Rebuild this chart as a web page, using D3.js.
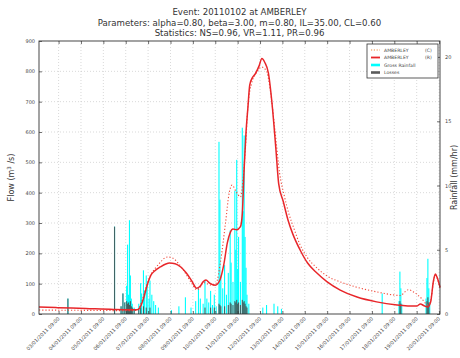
<!DOCTYPE html>
<html>
<head>
<meta charset="utf-8">
<script src="https://cdn.jsdelivr.net/npm/d3@7"></script>
<style>
  body { margin: 0; background: #fff; }
  svg { display: block; font-family: "DejaVu Sans", sans-serif; }
</style>
</head>
<body>
<svg id="chart" width="460" height="358"></svg>
<script>
// ---- chart text ----
const titleLines = [
  "Event: 20110102 at AMBERLEY",
  "Parameters: alpha=0.80, beta=3.00, m=0.80, IL=35.00, CL=0.60",
  "Statistics: NS=0.96, VR=1.11, PR=0.96"
];
const legendLabels = ["AMBERLEY", "AMBERLEY", "Gross Rainfall", "Losses"];
const legendTags = ["(C)", "(R)", "", ""];

// ---- time axis: hours counted from the start of the event window ----
const startTime = new Date(2011, 0, 2, 12, 0);
const endHour = 430;
const tickDays = [3, 4, 5, 6, 7, 8, 9, 10, 11, 12, 13, 14, 15, 16, 17, 18, 19, 20];
const flowTicks = [0, 100, 200, 300, 400, 500, 600, 700, 800, 900];
const rainTicks = [0, 5, 10, 15, 20];

// ---- observed (R) and computed (C) flow, [hour, m3/s] ----
const flowR = [
  [0, 23], [20, 21], [50, 18], [80, 15], [100, 14], [105, 14], [108, 20], [112, 50],
  [116, 95], [120, 128], [124, 142], [130, 155], [136, 165], [140, 168], [146, 166],
  [152, 155], [158, 135], [164, 108], [169, 85], [173, 92], [176, 106], [179, 112],
  [183, 102], [189, 95], [194, 112], [198, 160], [202, 235], [205, 268], [208, 280],
  [212, 278], [216, 288], [218, 330], [220, 480], [222, 600], [224, 680], [226, 755],
  [229, 780], [232, 792], [236, 818], [239, 842], [242, 830], [246, 794], [250, 690],
  [254, 545], [257, 430], [262, 370], [267, 310], [272, 265], [280, 211], [288, 168],
  [298, 135], [309, 106], [323, 79], [341, 56], [362, 40], [384, 30], [405, 26],
  [409, 33], [413, 27], [417, 23], [420, 40], [423, 110], [425, 132], [427, 120], [430, 88]
];
const flowC = [
  [0, 13], [50, 12], [100, 11], [105, 12], [110, 40], [115, 90], [120, 130], [125, 152],
  [130, 170], [135, 185], [138, 188], [143, 185], [150, 165], [158, 130], [164, 100],
  [169, 80], [173, 88], [176, 104], [180, 100], [186, 95], [190, 102], [195, 180],
  [200, 300], [204, 400], [207, 425], [212, 400], [216, 386], [219, 450], [222, 580],
  [224, 683], [228, 761], [232, 790], [239, 814], [244, 800], [248, 739], [253, 607],
  [258, 465], [263, 390], [268, 330], [273, 285], [280, 228], [288, 185], [298, 152],
  [309, 125], [323, 106], [341, 88], [362, 73], [380, 63], [388, 61], [392, 72],
  [396, 80], [402, 72], [410, 52], [417, 30], [420, 45], [423, 105], [425, 128],
  [427, 118], [430, 85]
];

// ---- hourly gross rainfall and losses, [hour, mm/hr] ----
const grossRain = [
  [31, 1.2], [81, 6.8], [88, 0.6], [90, 1.6], [92, 0.9], [94, 2.2], [95, 5.4], [96, 1.5],
  [97, 7.3], [98, 3.0], [99, 1.2], [100, 0.8], [102, 0.5],
  [107, 0.8], [109, 2.4], [110, 1.6], [112, 3.4], [113, 1.8], [115, 3.0], [116, 2.2],
  [118, 1.2], [119, 2.6], [121, 1.5], [123, 1.0], [125, 0.7], [128, 0.5],
  [142, 0.3], [150, 0.6], [157, 1.3], [163, 0.5], [168, 1.0], [171, 2.1], [173, 1.2],
  [176, 0.8], [178, 2.6], [180, 1.2], [182, 0.9], [184, 1.8], [186, 0.7], [188, 1.5],
  [190, 0.6], [193, 13.4], [194, 8.9], [195, 3.0], [197, 2.0], [199, 3.8], [201, 1.5],
  [203, 3.2], [205, 6.5], [206, 4.0], [208, 2.5], [210, 9.6], [211, 5.0], [212, 12.0],
  [213, 3.5], [214, 6.0], [216, 2.5], [218, 14.5], [219, 8.0], [220, 13.9], [221, 6.0],
  [222, 3.6], [223, 1.5], [225, 0.8],
  [240, 0.5], [244, 0.7], [252, 0.8], [256, 0.6], [260, 0.4],
  [368, 1.6], [386, 1.0], [387, 3.3], [388, 2.0], [389, 0.8],
  [415, 1.2], [416, 2.8], [417, 4.3], [418, 2.0], [419, 0.8]
];
const losses = [
  [31, 1.2], [81, 6.8], [88, 0.6], [90, 1.6], [92, 0.9], [94, 1.0], [95, 0.8], [96, 0.9],
  [97, 0.7], [98, 1.0], [99, 0.6], [100, 0.5], [102, 0.4],
  [107, 0.4], [109, 0.5], [112, 0.6], [115, 0.5], [119, 0.5],
  [178, 0.5], [184, 0.5], [188, 0.5], [193, 0.8], [194, 0.7], [195, 0.6], [199, 0.6],
  [203, 0.7], [205, 0.9], [206, 0.8], [208, 0.7], [210, 1.0], [211, 0.9], [212, 1.1],
  [213, 0.8], [214, 0.9], [216, 0.7], [218, 1.1], [219, 0.9], [220, 1.0], [221, 0.8],
  [222, 0.6], [223, 0.5],
  [387, 1.0], [388, 0.8], [416, 1.0], [417, 1.3], [418, 0.9]
];

// ---- layout ----
const svg = d3.select("#chart");
const plot = { left: 39, right: 440, top: 41, bottom: 314 };
const hourMs = 3600 * 1000;
const toDate = h => new Date(startTime.getTime() + h * hourMs);

const x = d3.scaleTime()
  .domain([startTime, toDate(endHour)])
  .range([plot.left, plot.right]);
const yFlow = d3.scaleLinear().domain([0, 900]).range([plot.bottom, plot.top]);
const yRain = d3.scaleLinear().domain([0, 21.25]).range([plot.bottom, plot.top]);

const tickDates = tickDays.map(d => new Date(2011, 0, d, 9, 0));
const fmt = d3.timeFormat("%d/%m/%Y %H:%M");
const ink = "#333";

// grid
const grid = svg.append("g").attr("stroke", "#c8c8c8").attr("stroke-width", 0.7)
  .attr("stroke-dasharray", "1,2");
grid.selectAll("line.v").data(tickDates).join("line")
  .attr("x1", d => x(d)).attr("x2", d => x(d))
  .attr("y1", plot.top).attr("y2", plot.bottom);
grid.selectAll("line.h").data(flowTicks.slice(1, -1)).join("line")
  .attr("x1", plot.left).attr("x2", plot.right)
  .attr("y1", d => yFlow(d)).attr("y2", d => yFlow(d));

// rainfall bars, with losses drawn over them
const barW = Math.max(1.1, x(toDate(1)) - x(toDate(0)));
svg.append("g").attr("fill", "#00ffff")
  .selectAll("rect").data(grossRain).join("rect")
  .attr("x", d => x(toDate(d[0])) - barW / 2).attr("width", barW)
  .attr("y", d => yRain(d[1])).attr("height", d => yRain(0) - yRain(d[1]));
svg.append("g").attr("fill", "#4a4a4a").attr("fill-opacity", 0.85)
  .selectAll("rect").data(losses).join("rect")
  .attr("x", d => x(toDate(d[0])) - barW / 2).attr("width", barW)
  .attr("y", d => yRain(d[1])).attr("height", d => yRain(0) - yRain(d[1]));

// flow lines
const line = d3.line()
  .x(d => x(toDate(d[0]))).y(d => yFlow(d[1]))
  .curve(d3.curveMonotoneX);
svg.append("path").datum(flowC).attr("d", line)
  .attr("fill", "none").attr("stroke", "#f04a3a").attr("stroke-width", 1.1)
  .attr("stroke-dasharray", "1.2,2");
svg.append("path").datum(flowR).attr("d", line)
  .attr("fill", "none").attr("stroke", "#e8262a").attr("stroke-width", 1.5);

// frame
svg.append("rect")
  .attr("x", plot.left).attr("y", plot.top)
  .attr("width", plot.right - plot.left).attr("height", plot.bottom - plot.top)
  .attr("fill", "none").attr("stroke", ink).attr("stroke-width", 0.9);

// axes (ticks pointing inward)
const tickStyle = g => {
  g.select(".domain").remove();
  g.selectAll(".tick line").attr("stroke", ink).attr("stroke-width", 0.7);
  g.selectAll(".tick text").attr("fill", "#444").style("font-size", "5px")
    .style("font-family", "DejaVu Sans, sans-serif");
};
svg.append("g").attr("transform", `translate(${plot.left},0)`)
  .call(d3.axisLeft(yFlow).tickValues(flowTicks).tickSizeInner(-3).tickPadding(4))
  .call(tickStyle);
svg.append("g").attr("transform", `translate(${plot.right},0)`)
  .call(d3.axisRight(yRain).tickValues(rainTicks).tickSizeInner(-3).tickPadding(5))
  .call(tickStyle);
svg.append("g").attr("transform", `translate(0,${plot.top})`)
  .call(d3.axisTop(x).tickValues(tickDates).tickSizeInner(-3).tickFormat(""))
  .call(tickStyle);
const bottomAxis = svg.append("g").attr("transform", `translate(0,${plot.bottom})`)
  .call(d3.axisBottom(x).tickValues(tickDates).tickSizeInner(-3).tickFormat(fmt))
  .call(tickStyle);
bottomAxis.selectAll(".tick text")
  .attr("text-anchor", "end").attr("dy", null).attr("y", 0)
  .attr("transform", "translate(1,5) rotate(-45)");

// titles
svg.append("g").selectAll("text").data(titleLines).join("text")
  .attr("x", (plot.left + plot.right) / 2).attr("y", (d, i) => 15 + i * 10.5)
  .attr("text-anchor", "middle").attr("fill", "#333").style("font-size", "8.6px")
  .text(d => d);

// axis labels
svg.append("text")
  .attr("transform", `translate(14,${(plot.top + plot.bottom) / 2}) rotate(-90)`)
  .attr("text-anchor", "middle").attr("fill", "#333").style("font-size", "8px")
  .html('Flow (m<tspan dy="-3" style="font-size:5.5px">3</tspan><tspan dy="3"> /s)</tspan>');
svg.append("text")
  .attr("transform", `translate(457,${(plot.top + plot.bottom) / 2}) rotate(-90)`)
  .attr("text-anchor", "middle").attr("fill", "#333").style("font-size", "8px")
  .text("Rainfall (mm/hr)");

// legend
const lg = svg.append("g").attr("transform", "translate(367,44)");
lg.append("rect").attr("width", 71).attr("height", 34)
  .attr("fill", "#fff").attr("stroke", ink).attr("stroke-width", 0.8);
const swatch = [
  { stroke: "#f08a3a", w: 1.1, dash: "1.2,1.6" },
  { stroke: "#e8262a", w: 1.8, dash: null },
  { stroke: "#00ffff", w: 2.6, dash: null },
  { stroke: "#5a5a5a", w: 2.6, dash: null }
];
legendLabels.forEach((label, i) => {
  const yy = 6 + i * 7.5;
  lg.append("line").attr("x1", 4).attr("x2", 13).attr("y1", yy).attr("y2", yy)
    .attr("stroke", swatch[i].stroke).attr("stroke-width", swatch[i].w)
    .attr("stroke-dasharray", swatch[i].dash);
  lg.append("text").attr("x", 17).attr("y", yy + 1.6).attr("fill", "#444")
    .style("font-size", "4.6px").text(label);
  if (legendTags[i]) {
    lg.append("text").attr("x", 58).attr("y", yy + 1.6).attr("fill", "#444")
      .style("font-size", "4.6px").text(legendTags[i]);
  }
});
</script>
</body>
</html>
